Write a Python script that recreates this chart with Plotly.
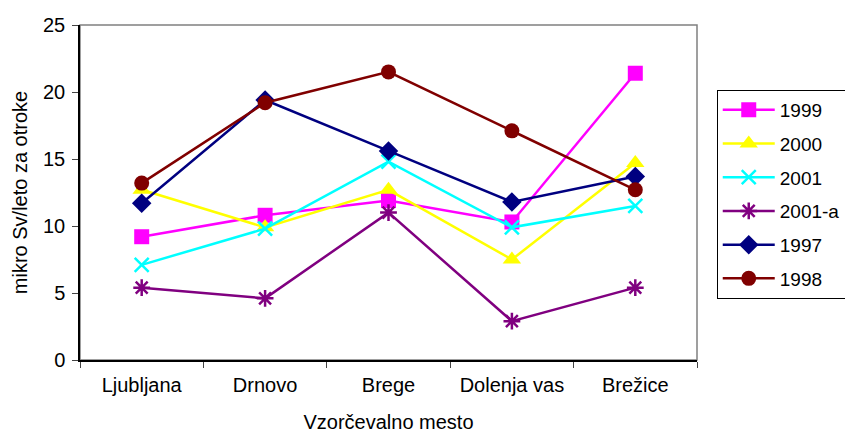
import plotly.graph_objects as go

categories = ["Ljubljana", "Drnovo", "Brege", "Dolenja vas", "Brežice"]
series_names = ["1999", "2000", "2001", "2001-a", "1997", "1998"]
v1999 = [9.2, 10.8, 11.9, 10.3, 21.4]
v2000 = [12.7, 9.9, 12.7, 7.5, 14.7]
v2001 = [7.1, 9.8, 14.8, 9.9, 11.5]
v2001a = [5.4, 4.6, 11.0, 2.9, 5.4]
v1997 = [11.7, 19.4, 15.6, 11.8, 13.7]
v1998 = [13.2, 19.2, 21.5, 17.1, 12.7]
y_ticks = [0, 5, 10, 15, 20, 25]

values = [v1999, v2000, v2001, v2001a, v1997, v1998]
colors = ["#FF00FF", "#FFFF00", "#00FFFF", "#800080", "#000080", "#800000"]
symbols = ["square", "triangle-up", "x-thin", "asterisk", "diamond", "circle"]
sizes = [15, 16, 14, 14, 15, 15]

fig = go.Figure()
for name, vals, c, s, sz in zip(series_names, values, colors, symbols, sizes):
    marker = dict(symbol=s, size=sz, color=c)
    if s in ("x-thin", "asterisk"):
        marker["line"] = dict(color=c, width=2.5)
    else:
        marker["line"] = dict(width=0)
    fig.add_trace(go.Scatter(
        x=categories, y=vals, name=name, mode="lines+markers",
        line=dict(color=c, width=2.5), marker=marker,
        legendgroup=name,
    ))

font = "Liberation Sans, Arial, sans-serif"
fig.update_layout(
    width=845, height=426,
    margin=dict(l=72, r=156, t=17, b=74, autoexpand=False),
    paper_bgcolor="white", plot_bgcolor="white",
    font=dict(family=font, size=20, color="black"),
    showlegend=True,
    legend=dict(
        x=1.032, y=0.806, xanchor="left", yanchor="top",
        bordercolor="black", borderwidth=1,
        font=dict(size=19), tracegroupgap=6,
        itemwidth=52,
    ),
    xaxis=dict(
        type="category", range=[-0.5, 4.5], automargin=False,
        showgrid=False, showline=True, linecolor="black", linewidth=1.5,
        ticks="outside", tickson="boundaries", ticklen=6, tickcolor="#444",
        ticklabelstandoff=6,
        title=dict(text="Vzorčevalno mesto", standoff=20, font=dict(size=20)),
        zeroline=False,
    ),
    yaxis=dict(
        range=[0, 25], tickvals=y_ticks, showgrid=False, automargin=False,
        showline=True, linecolor="black", linewidth=1.5,
        ticks="outside", ticklen=6, tickcolor="#444",
        ticklabelstandoff=3,
        title=dict(text="mikro Sv/leto za otroke", standoff=10, font=dict(size=20)),
        zeroline=False,
    ),
    shapes=[dict(type="rect", xref="paper", yref="paper", x0=0, x1=1, y0=0, y1=1,
                 line=dict(color="#808080", width=1.5), layer="below")],
)

fig.write_html("out.html")
